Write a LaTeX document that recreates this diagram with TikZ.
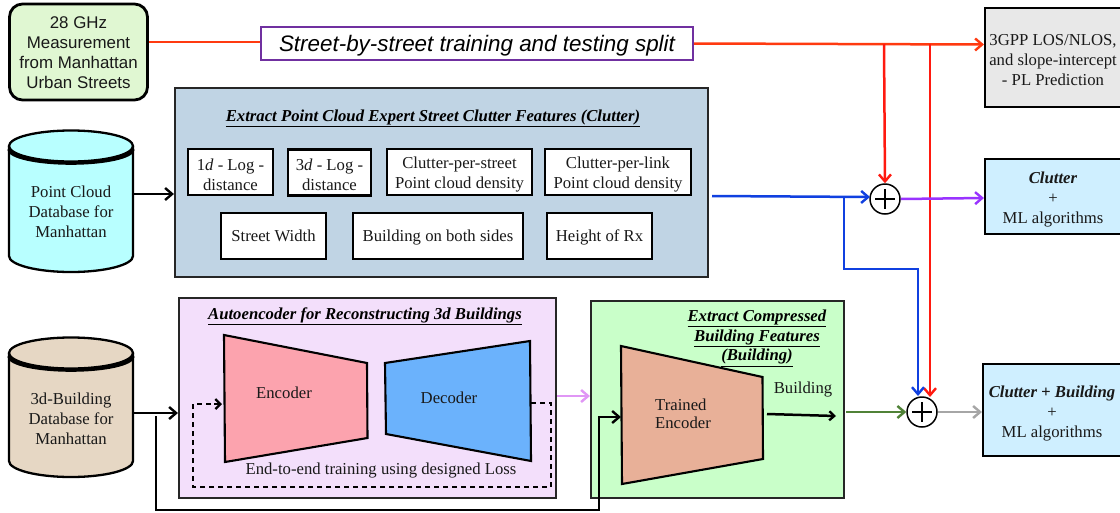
\documentclass[tikz,border=0pt]{standalone}
\usepackage{fontspec}
\setmainfont{Liberation Serif}
\setsansfont{Liberation Sans}
\usetikzlibrary{arrows.meta}
\definecolor{redline}{HTML}{FF1A10}
\definecolor{orangered}{HTML}{FF3A10}
\definecolor{blueline}{HTML}{1040E0}
\definecolor{purpleline}{HTML}{9933FF}
\definecolor{lavline}{HTML}{E096F5}
\definecolor{greenline}{HTML}{508237}
\definecolor{grayline}{HTML}{A6A6A6}
\definecolor{measfill}{HTML}{E0F7D2}
\definecolor{splitedge}{HTML}{7030A0}
\definecolor{plfill}{HTML}{E8E8E8}
\definecolor{cpanelfill}{HTML}{C0D4E4}
\definecolor{cylblue}{HTML}{B8FFFF}
\definecolor{cyltan}{HTML}{E6D7C4}
\definecolor{apanelfill}{HTML}{F3DFFB}
\definecolor{encfill}{HTML}{FCA3AE}
\definecolor{decfill}{HTML}{6BB2FC}
\definecolor{gpanelfill}{HTML}{C9FFC9}
\definecolor{tefill}{HTML}{E8B098}
\definecolor{mlfill}{HTML}{CFEFFF}
\newcommand{\fs}[1]{\fontsize{#1}{#1}\selectfont}
\newcommand{\ttl}[1]{\underline{\textbf{\textit{#1}}}}
\newcommand{\topup}[1]{\rule{0pt}{#1pt}}
\tikzset{
  x=1pt,y=-1pt,
  tip/.style={-{Straight Barb[length=7pt,width=12pt,line width=2.4pt]}},
  box/.style={draw=black,line width=2.1pt,align=center,inner sep=0pt,font=\fs{16.7}\rmfamily,text=black!90},
  feat/.style={box,fill=white},
  lbl/.style={inner sep=0pt,align=center,font=\fs{16.7}\rmfamily,text=black!90},
  ttlnode/.style={inner sep=0pt,align=center,font=\fs{16.7}\rmfamily,text=black},
  panel/.style={draw=black!85,line width=2.1pt},
  trap/.style={draw=black,line width=2.1pt,line join=miter},
  conn/.style={line width=2.5pt,tip},
  blackconn/.style={line width=2.8pt,tip},
  plain/.style={line width=2.5pt},
  sumnode/.style={circle,draw=black,fill=white,line width=1.5pt,minimum size=30pt,inner sep=0pt}
}
\begin{document}
\begin{tikzpicture}
\useasboundingbox (0,0) rectangle (1120,512);
\fill[white] (0,0) rectangle (1120,512);

% Top row
\node[box,fill=measfill,rounded corners=13pt,line width=2.8pt,minimum width=138pt,minimum height=96pt,font=\fs{16.9}\sffamily] (meas) at (78.5,52) {\topup{14}28 GHz\\[3.1pt]Measurement\\[3.1pt]from Manhattan\\[3.1pt]Urban Streets};
\node[draw=splitedge,line width=2pt,fill=white,minimum width=432pt,minimum height=33pt,inner sep=0pt,font=\fs{22.4}\sffamily\itshape,text height=16pt,text depth=1pt] (split) at (477,43.5) {Street-by-street training and testing split};
\node[box,fill=plfill,minimum width=136pt,minimum height=99pt] (pl) at (1053,57.5) {\topup{16}3GPP LOS/NLOS,\\[3.3pt]and slope-intercept\\[3.3pt]- PL Prediction};

% Clutter panel
\node[panel,fill=cpanelfill,minimum width=533pt,minimum height=189pt,inner sep=0pt] (cpanel) at (441.5,182.5) {};
\node[ttlnode] (ctitle) at (433,118) {\ttl{Extract Point Cloud Expert Street Clutter Features (Clutter)}};
\node[feat,minimum width=85pt,minimum height=46pt] (f1) at (230.5,172) {\topup{17}1\textit{d} - Log -\\[3.3pt]distance};
\node[feat,minimum width=83pt,minimum height=46pt] (f2) at (329.5,172.5) {\topup{17}3\textit{d} - Log -\\[3.3pt]distance};
\node[feat,minimum width=145pt,minimum height=46pt] (f3) at (459.5,172) {\topup{17}Clutter-per-street\\[3.3pt]Point cloud density};
\node[feat,minimum width=146pt,minimum height=46pt] (f4) at (618,172) {\topup{17}Clutter-per-link\\[3.3pt]Point cloud density};
\node[feat,minimum width=105pt,minimum height=46pt,text height=12pt,text depth=1pt] (f5) at (273.5,236) {Street Width};
\node[feat,minimum width=170pt,minimum height=46pt,text height=12pt,text depth=1pt] (f6) at (438,236) {Building on both sides};
\node[feat,minimum width=105pt,minimum height=46pt,text height=12pt,text depth=1pt] (f7) at (599.5,236) {Height of Rx};

% Cylinders
\fill[cylblue] (9,146) -- (9,256) arc[x radius=62,y radius=16,start angle=180,end angle=0] -- (133,146) -- cycle;
\draw[line width=2.3pt] (9,146) -- (9,256) arc[x radius=62,y radius=16,start angle=180,end angle=0] -- (133,146);
\draw[line width=3.6pt] (9,149) arc[x radius=62,y radius=14,start angle=180,end angle=0];
\draw[line width=2.3pt,fill=cylblue] (71,146) ellipse[x radius=62,y radius=15.5];
\node[lbl] (pc) at (71,212) {Point Cloud\\[3.3pt]Database for\\[3.3pt]Manhattan};
\coordinate (pcout) at (133,194);

\fill[cyltan] (9,353) -- (9,461) arc[x radius=62,y radius=16,start angle=180,end angle=0] -- (133,353) -- cycle;
\draw[line width=2.3pt] (9,353) -- (9,461) arc[x radius=62,y radius=16,start angle=180,end angle=0] -- (133,353);
\draw[line width=3.6pt] (9,356) arc[x radius=62,y radius=14,start angle=180,end angle=0];
\draw[line width=2.3pt,fill=cyltan] (71,353) ellipse[x radius=62,y radius=15.5];
\node[lbl] (bd) at (71,419) {3d-Building\\[3.3pt]Database for\\[3.3pt]Manhattan};
\coordinate (bdout) at (133,413);

% Autoencoder panel
\node[panel,fill=apanelfill,minimum width=377pt,minimum height=200pt,inner sep=0pt] (apanel) at (367.5,398) {};
\node[ttlnode] (atitle) at (365,316) {\ttl{Autoencoder for Reconstructing 3d Buildings}};
\filldraw[trap,fill=encfill] (224,335) -- (367,363) -- (367.5,438) -- (225,462) -- cycle;
\filldraw[trap,fill=decfill] (385,363) -- (530,341) -- (531,461) -- (386,434) -- cycle;
\node[lbl] (enc) at (284,393) {Encoder};
\node[lbl] (dec) at (449,398) {Decoder};
\node[lbl] (loss) at (381,471) {End-to-end training using designed Loss};
\coordinate (dstart) at (531,403);
\coordinate (dend) at (222,404);
\draw[line width=2.5pt,dash pattern=on 5pt off 4pt] (dstart) -- (551,403) -- (551,487) -- (193,487) -- (193,404) -- (214,404);
\draw[line width=2.5pt,-{Straight Barb[length=5pt,width=10pt,line width=2.3pt]}] (214,404) -- (dend);

% Compressed panel
\node[panel,fill=gpanelfill,minimum width=253pt,minimum height=197pt,inner sep=0pt] (gpanel) at (717.5,399.5) {};
\node[ttlnode] (gtitle) at (757,338) {\ttl{Extract Compressed}\\[1.8pt]\ttl{Building Features}\\[1.8pt]\ttl{(Building)}};
\filldraw[trap,fill=tefill] (621,346) -- (762.5,377) -- (763,459) -- (622,484) -- cycle;
\node[lbl,align=left] (te) at (683,414) {Trained\\[1.5pt]Encoder};
\node[lbl] (bl) at (803,390) {Building};
\coordinate (blstart) at (767,414);
\coordinate (blend) at (836,416);
\draw[line width=2.5pt,-{Straight Barb[length=5pt,width=9pt,line width=2.3pt]}] (blstart) -- (blend);

% Output boxes
\node[box,fill=mlfill,minimum width=136pt,minimum height=75pt] (cml) at (1053,196.5) {\topup{18}\textbf{\textit{Clutter}}\\[3.3pt]+\\[3.3pt]ML algorithms};
\node[box,fill=mlfill,minimum width=138pt,minimum height=92pt] (bml) at (1052,410) {\topup{18}\textbf{\textit{Clutter + Building}}\\[3.3pt]+\\[3.3pt]ML algorithms};

% Summing nodes
\node[sumnode] (s1) at (885,199) {};
\draw[line width=1.6pt] (875,199) -- (895,199) (885,189) -- (885,209);
\node[sumnode] (s2) at (922,412) {};
\draw[line width=1.6pt] (912,412) -- (932,412) (922,402) -- (922,422);

% Connectors
\draw[plain,orangered] (meas.east |- 0,42) -- (split.west |- 0,42);
\draw[conn,orangered] (split.east) -- (pl.west |- 0,44.5);
\coordinate (r1) at (884,44);
\coordinate (r2) at (930,44);
\draw[conn,redline] (r1) -- (s1.north);
\draw[conn,redline] (r2) -- (930,397);
\coordinate (bstart) at (712,196);
\coordinate (bj) at (844,197);
\draw[conn,blueline] (bstart) -- (870,197);
\draw[conn,blueline] (bj) -- (844,269) -- (918,269) -- (918,396);
\draw[conn,purpleline] (s1.east) -- (cml.west |- 0,198);
\draw[blackconn] (pcout) -- (cpanel.west |- pcout);
\draw[blackconn] (bdout) -- (apanel.west |- bdout);
\coordinate (bj2) at (156,416);
\draw[blackconn] (bj2) -- (156,510) -- (599,510) -- (599,417) -- (621,417);
\draw[conn,lavline] (apanel.east |- 0,396) -- (gpanel.west |- 0,396);
\coordinate (gstart) at (846,412);
\draw[conn,greenline] (gstart) -- (s2.west);
\draw[conn,grayline] (s2.east) -- (bml.west |- s2);
\end{tikzpicture}
\end{document}
